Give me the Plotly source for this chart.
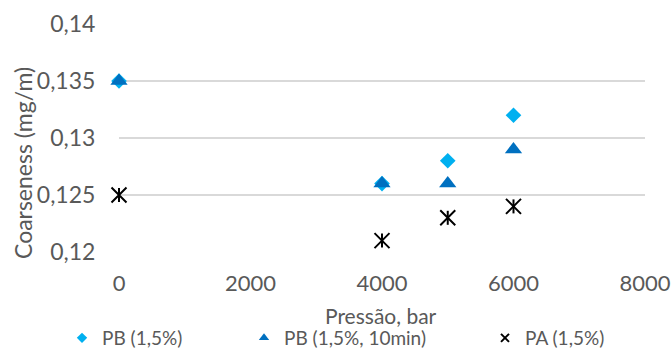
import plotly.graph_objects as go

# Pressure levels (bar) and measured coarseness (mg/m) per treatment
pressure = [0, 4000, 5000, 6000]
pb_15 = [0.135, 0.126, 0.128, 0.132]
pb_15_10min = [0.135, 0.126, 0.126, 0.129]
pa_15 = [0.125, 0.121, 0.123, 0.124]

series_names = ["PB (1,5%)", "PB (1,5%, 10min)", "PA (1,5%)"]

x_tickvals = [0, 2000, 4000, 6000, 8000]
x_ticktext = ["0", "2000", "4000", "6000", "8000"]
y_tickvals = [0.12, 0.125, 0.13, 0.135, 0.14]
y_ticktext = ["0,12", "0,125", "0,13", "0,135", "0,14"]

TEXT = "#595959"
FONT = "Lato"
C_PB = "#00B0F0"
C_PB10 = "#0070C0"

fig = go.Figure()

# data markers (legend entries are drawn by small legend-only traces below)
fig.add_trace(go.Scatter(
    x=pressure, y=pb_15, mode="markers", name=series_names[0], showlegend=False,
    marker=dict(symbol="diamond", size=12, color=C_PB), cliponaxis=False,
))
fig.add_trace(go.Scatter(
    x=pressure, y=pb_15_10min, mode="markers", name=series_names[1], showlegend=False,
    marker=dict(symbol="triangle-up", size=15, color=C_PB10), cliponaxis=False,
))
# star marker: an X plus a vertical stroke
fig.add_trace(go.Scatter(
    x=pressure, y=pa_15, mode="markers", name=series_names[2], showlegend=False,
    marker=dict(symbol="x-thin-open", size=15, color="black",
                line=dict(width=2, color="black")), cliponaxis=False,
))
fig.add_trace(go.Scatter(
    x=pressure, y=pa_15, mode="markers", showlegend=False, hoverinfo="skip",
    marker=dict(symbol="line-ns-open", size=10, color="black",
                line=dict(width=2, color="black")), cliponaxis=False,
))

# legend entries with smaller symbols
fig.add_trace(go.Scatter(x=[None], y=[None], mode="markers", name=series_names[0],
                         marker=dict(symbol="diamond", size=8, color=C_PB), legend="legend"))
fig.add_trace(go.Scatter(x=[None], y=[None], mode="markers", name=series_names[1],
                         marker=dict(symbol="triangle-up", size=9, color=C_PB10), legend="legend2"))
fig.add_trace(go.Scatter(x=[None], y=[None], mode="markers", name=series_names[2],
                         marker=dict(symbol="x-thin-open", size=8, color="black",
                                     line=dict(width=2, color="black")), legend="legend3"))

legend_style = dict(orientation="h", yanchor="middle", xanchor="left",
                    y=(252 - 338) / 228, font=dict(family=FONT, size=19, color=TEXT),
                    bgcolor="rgba(0,0,0,0)")

fig.update_layout(
    width=671, height=349,
    margin=dict(l=119, r=26, t=24, b=97, autoexpand=False),
    plot_bgcolor="white", paper_bgcolor="white",
    font=dict(family=FONT, color=TEXT),
    legend=dict(x=(62 - 119) / 526, **legend_style),
    legend2=dict(x=(244 - 119) / 526, **legend_style),
    legend3=dict(x=(485 - 119) / 526, **legend_style),
    xaxis=dict(
        range=[0, 8000], tickvals=x_tickvals, ticktext=x_ticktext,
        showgrid=False, zeroline=False, showline=False, automargin=False,
        ticks="outside", ticklen=12, tickcolor="rgba(0,0,0,0)",
        tickfont=dict(family=FONT, size=22, color=TEXT),
    ),
    yaxis=dict(
        range=[0.12, 0.14], tickvals=y_tickvals, ticktext=y_ticktext,
        showgrid=True, gridcolor="#D9D9D9", gridwidth=1.5,
        zeroline=False, showline=False, automargin=False,
        ticks="outside", ticklen=18, tickcolor="rgba(0,0,0,0)",
        tickfont=dict(family=FONT, size=23, color=TEXT),
    ),
    annotations=[
        dict(text="Coarseness (mg/m)", textangle=-90, xref="paper", yref="paper",
             x=(23 - 119) / 526, y=(252 - 163) / 228, xanchor="center", yanchor="middle",
             showarrow=False, font=dict(family=FONT, size=23, color=TEXT)),
        dict(text="Pressão, bar", xref="paper", yref="paper",
             x=(381 - 119) / 526, y=(252 - 315) / 228, xanchor="center", yanchor="middle",
             showarrow=False, font=dict(family=FONT, size=21, color=TEXT)),
    ],
)

fig.write_html("out.html")
